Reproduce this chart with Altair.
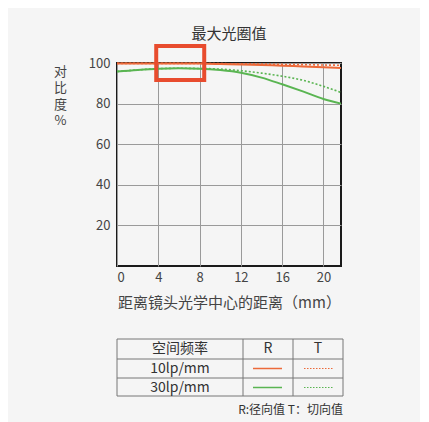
import altair as alt
import pandas as pd

# ---- data ----
positions = [0, 2, 4, 6, 8, 10, 12, 14, 16, 18, 20, 21.7]
r10 = [99.8, 99.8, 99.8, 99.8, 99.7, 99.5, 99.3, 99.0, 98.7, 98.3, 97.9, 97.5]
t10 = [99.8, 99.8, 99.8, 99.8, 99.8, 99.7, 99.6, 99.5, 99.3, 99.2, 99.0, 98.9]
r30 = [95.8, 96.6, 97.2, 97.4, 97.2, 96.5, 95.2, 92.8, 89.5, 86.0, 82.3, 80.0]
t30 = [95.8, 96.6, 97.2, 97.4, 97.3, 97.0, 96.2, 95.0, 93.5, 91.5, 88.5, 85.5]

x_ticks = [0, 4, 8, 12, 16, 20]
y_ticks = [20, 40, 60, 80, 100]

title_text = "最大光圈值"
x_title = "距离镜头光学中心的距离（mm）"
y_title = ["对", "比", "度", "%"]

table_header = ["空间频率", "R", "T"]
table_rows = ["10lp/mm", "30lp/mm"]
footnote = "R:径向值 T：切向值"

# highlight box (data coords)
box = {"x1": 3.8, "x2": 8.45, "y1": 91.6, "y2": 108.4}

ORANGE = "#ec6a3a"
GREEN = "#5ab552"
RED = "#e84c2e"
TXT = "#444444"
BG = "#f5f5f5"
FONT = "Noto Sans CJK SC"

rows = []
for name, vals in [("R10", r10), ("T10", t10), ("R30", r30), ("T30", t30)]:
    for p, v in zip(positions, vals):
        rows.append({"series": name, "x": p, "y": v})
df = pd.DataFrame(rows)

xscale = alt.Scale(domain=[0, 21.7], nice=False, zero=False)
yscale = alt.Scale(domain=[0, 100], nice=False)


def line(name, color, dash):
    kw = dict(color=color, strokeWidth=2 if dash is None else 1.6, interpolate="monotone")
    if dash is not None:
        kw["strokeDash"] = dash
    return alt.Chart(df[df.series == name]).mark_line(**kw).encode(
        x=alt.X("x:Q", scale=xscale,
                axis=alt.Axis(values=x_ticks, title=x_title, grid=True, ticks=False,
                              domain=False, gridColor="#9a9a9a", gridWidth=1,
                              labelFontSize=13, labelColor=TXT, labelPadding=5,
                              titleFontSize=15, titleFontWeight="normal", titleColor=TXT,
                              titlePadding=11, labelFont=FONT, titleFont=FONT)),
        y=alt.Y("y:Q", scale=yscale,
                axis=alt.Axis(values=y_ticks, title=y_title, grid=True, ticks=False,
                              domain=False, gridColor="#9a9a9a", gridWidth=1,
                              labelFontSize=13, labelColor=TXT, labelPadding=7,
                              titleFontSize=13, titleFontWeight="normal", titleColor=TXT,
                              titleAngle=0, titleAlign="center", titleBaseline="top",
                              titleX=-57, titleY=2, titleLineHeight=16.5,
                              labelFont=FONT, titleFont=FONT)),
    )


lines = (line("T30", GREEN, [2, 2]) + line("R30", GREEN, None) +
         line("T10", ORANGE, [2, 2]) + line("R10", ORANGE, None))

box_df = pd.DataFrame([box])
hl = alt.Chart(box_df).mark_rect(fillOpacity=0, stroke=RED, strokeWidth=4, clip=False).encode(
    x="x1:Q", x2="x2:Q", y="y1:Q", y2="y2:Q")

main = alt.layer(lines, hl).properties(
    width=224, height=203,
    title=alt.TitleParams(title_text, fontSize=15, fontWeight="normal", color="#333333",
                          font=FONT, offset=2, anchor="middle"),
    view=alt.ViewBackground(stroke="#1a1a1a", strokeWidth=2),
)

# ---- table ----
TW = 226
col_edges = [0, 126, 176, 226]
row_edges = [0, 20, 39, 57]
hrules = pd.DataFrame({"y": row_edges, "x": [0] * 4, "x2": [TW] * 4})
vrules = pd.DataFrame({"x": col_edges, "y": [0] * 4, "y2": [57] * 4})
tx = alt.Scale(domain=[0, TW], nice=False, zero=False)
ty = alt.Scale(domain=[0, 80], nice=False, reverse=True, zero=False)

hr = alt.Chart(hrules).mark_rule(color="#777777", strokeWidth=1).encode(
    x=alt.X("x:Q", scale=tx, axis=None), x2="x2:Q", y=alt.Y("y:Q", scale=ty, axis=None))
vr = alt.Chart(vrules).mark_rule(color="#777777", strokeWidth=1).encode(
    x=alt.X("x:Q", scale=tx, axis=None), y=alt.Y("y:Q", scale=ty, axis=None), y2="y2:Q")

cells = []
centers_x = [63, 151, 201]
centers_y = [10, 29.5, 48.5]
for i, h in enumerate(table_header):
    cells.append({"x": centers_x[i], "y": centers_y[0], "t": h})
for j, r in enumerate(table_rows):
    cells.append({"x": centers_x[0], "y": centers_y[j + 1], "t": r})
cells_df = pd.DataFrame(cells)
foot_df = pd.DataFrame([{"x": TW, "y": 71, "t": footnote}])

txt_c = alt.Chart(cells_df).mark_text(fontSize=14, color="#333333", font=FONT, baseline="middle").encode(
    x=alt.X("x:Q", scale=tx, axis=None), y=alt.Y("y:Q", scale=ty, axis=None), text="t:N")
txt_r = alt.Chart(foot_df).mark_text(fontSize=12, color="#333333", font=FONT,
                                     align="right", baseline="middle").encode(
    x=alt.X("x:Q", scale=tx, axis=None), y=alt.Y("y:Q", scale=ty, axis=None), text="t:N")

leg = pd.DataFrame([
    {"x": 136, "x2": 165, "y": centers_y[1], "k": "R10"},
    {"x": 187, "x2": 216, "y": centers_y[1], "k": "T10"},
    {"x": 136, "x2": 165, "y": centers_y[2], "k": "R30"},
    {"x": 187, "x2": 216, "y": centers_y[2], "k": "T30"},
])


def legrule(k, color, dash):
    kw = dict(color=color, strokeWidth=1.5)
    if dash:
        kw["strokeDash"] = [1.5, 1.5]
        kw["strokeWidth"] = 1.2
    return alt.Chart(leg[leg.k == k]).mark_rule(**kw).encode(
        x=alt.X("x:Q", scale=tx, axis=None), x2="x2:Q", y=alt.Y("y:Q", scale=ty, axis=None))


table = alt.layer(hr, vr, txt_c, txt_r,
                  legrule("R10", ORANGE, False), legrule("T10", ORANGE, True),
                  legrule("R30", GREEN, False), legrule("T30", GREEN, True)).properties(
    width=TW, height=80, view=alt.ViewBackground(stroke=None))

chart = alt.vconcat(main, table, spacing=27).properties(
    background=BG,
    padding={"left": 44, "top": 17, "right": 74, "bottom": 3},
).configure_view(strokeWidth=0)

chart.save("out.html", embed_options={"renderer": "svg", "actions": False})
